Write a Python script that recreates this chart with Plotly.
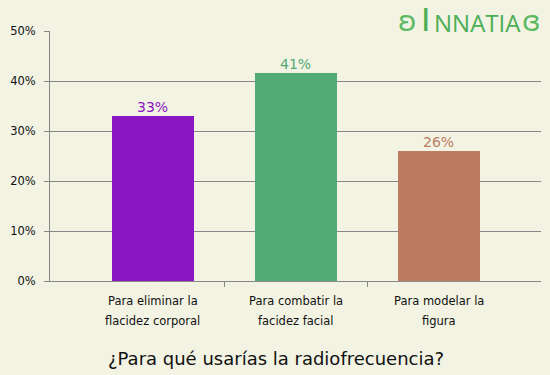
import plotly.graph_objects as go

categories = ["Para eliminar la<br>flacidez corporal",
              "Para combatir la<br>facidez facial",
              "Para modelar la<br>figura"]
values = [33, 41.6, 26]
value_labels = ["33%", "41%", "26%"]
colors = ["#8a15c3", "#52aa75", "#bd7c61"]
y_ticks = [0, 10, 20, 30, 40, 50]
y_ticktext = ["0%", "10%", "20%", "30%", "40%", "50%"]
title = "¿Para qué usarías la radiofrecuencia?"
logo_first, logo_rest = "I", "NNATIA"

BG = "#f3f3e3"
FONT = "DejaVu Sans"
AX = "#888888"
LOGO = "#4cae55"

# plot area in pixels
L, R, T, B = 50, 541, 31, 281
W, H = R - L, B - T


def px_x(p):
    return (p - L) / W


def px_y(p):
    return (B - p) / H


x = list(range(len(categories)))

fig = go.Figure()
fig.add_trace(go.Bar(
    x=x, y=values, width=0.573,
    marker=dict(color=colors, line=dict(width=0)),
    hoverinfo="skip",
))

for i, (v, lab, c) in enumerate(zip(values, value_labels, colors)):
    fig.add_annotation(
        x=i, y=v, xref="x", yref="y", text=lab, showarrow=False,
        xanchor="center", yanchor="bottom", yshift=-1,
        font=dict(family=FONT, size=14, color=c))

for i, cat in enumerate(categories):
    for j, line in enumerate(cat.split("<br>")):
        fig.add_annotation(
            x=i, xref="x", y=px_y(301 + 20 * j), yref="paper",
            text=line, showarrow=False, xanchor="center", yanchor="middle",
            font=dict(family=FONT, size=11.5, color="#111111"))

fig.add_annotation(
    x=px_x(276), xref="paper", y=px_y(358), yref="paper",
    text=title, showarrow=False, xanchor="center", yanchor="middle",
    font=dict(family=FONT, size=18, color="#111111"))

# logo
fig.add_annotation(
    x=px_x(425), y=px_y(20.5), xref="paper", yref="paper", showarrow=False,
    text=logo_first, xanchor="center", yanchor="middle", borderpad=0,
    font=dict(family="DejaVu Sans", size=32, color=LOGO))
fig.add_annotation(
    x=px_x(477), y=px_y(23), xref="paper", yref="paper", showarrow=False,
    text=logo_rest, xanchor="center", yanchor="middle",
    font=dict(family="Open Sans", size=24, color=LOGO))
for p, sym in [(407, "ʚ"), (531, "ɞ")]:
    fig.add_annotation(
        x=px_x(p), y=px_y(22), xref="paper", yref="paper",
        showarrow=False, text=sym, xanchor="center", yanchor="middle",
        font=dict(family="DejaVu Sans", size=28, color="#5cba62"))

fig.update_layout(
    width=550, height=375,
    margin=dict(l=L, r=550 - R, t=T, b=375 - B, autoexpand=False),
    paper_bgcolor=BG, plot_bgcolor=BG,
    showlegend=False,
    bargap=0,
    xaxis=dict(
        range=[-0.72, 2.715], tickvals=[], showgrid=False, zeroline=False,
        showline=True, linecolor=AX, linewidth=1,
        minor=dict(tickvals=[0.5, 1.5], ticks="outside", ticklen=5,
                   tickcolor=AX, tickwidth=1, showgrid=False),
    ),
    yaxis=dict(
        range=[0, 50], tickvals=y_ticks, ticktext=y_ticktext,
        ticks="outside", ticklen=5, tickcolor=AX, ticklabelstandoff=6,
        showgrid=True, gridcolor=AX, gridwidth=1,
        showline=True, linecolor=AX, linewidth=1, zeroline=False,
        tickfont=dict(family=FONT, size=11.5, color="#111111"),
    ),
)

fig.write_html(
    "out.html",
    config={"displayModeBar": False},
    post_script="document.body.style.margin='0';document.body.style.background='%s';" % BG,
)
